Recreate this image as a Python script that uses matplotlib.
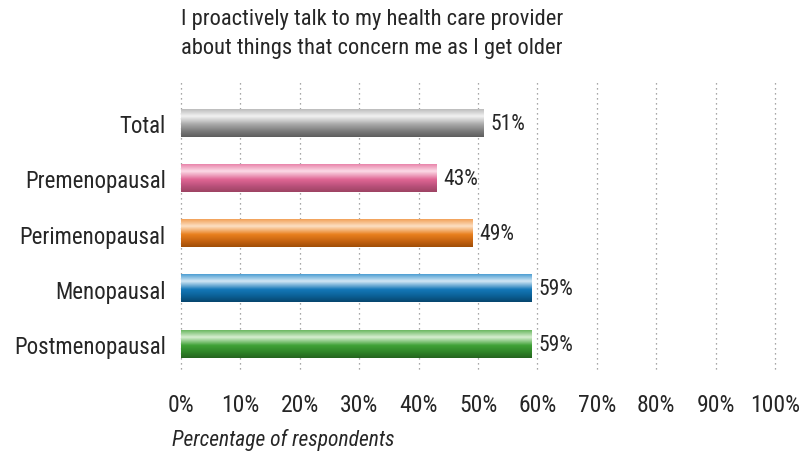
import matplotlib
matplotlib.use("Agg")
import matplotlib.pyplot as plt
import numpy as np
from matplotlib.colors import LinearSegmentedColormap
from matplotlib import font_manager

categories = ["Total", "Premenopausal", "Perimenopausal", "Menopausal", "Postmenopausal"]
values = [51, 43, 49, 59, 59]
value_labels = ["51%", "43%", "49%", "59%", "59%"]
tick_values = [0, 10, 20, 30, 40, 50, 60, 70, 80, 90, 100]
tick_labels = ["0%", "10%", "20%", "30%", "40%", "50%", "60%", "70%", "80%", "90%", "100%"]
title = "I proactively talk to my health care provider\nabout things that concern me as I get older"
xlabel = "Percentage of respondents"

gradients = [
    ["#bdbdbd", "#f2f2f2", "#a8a8a8", "#7a7a7a", "#5e5e5e"],
    ["#e986ac", "#fcdbe7", "#e06694", "#b8507a", "#9e4463"],
    ["#f2a25a", "#fde0c4", "#e9801e", "#c46210", "#a04e08"],
    ["#4f9fd3", "#d3e8f5", "#1478b8", "#0b5f95", "#07466e"],
    ["#6cb862", "#d8efd2", "#3fa236", "#2f8328", "#25651f"],
]

available = set(f.name for f in font_manager.fontManager.ttflist)
main_font = next((f for f in ["Roboto Condensed", "Archivo Narrow", "Barlow Condensed", "Roboto"]
                  if f in available), "DejaVu Sans")
plt.rcParams['font.family'] = [main_font, 'DejaVu Sans']
text_color = "#262626"

fig = plt.figure(figsize=(8.06, 4.52), dpi=100)
ax = fig.add_axes([181/806, 1 - 370/452, (775-181)/806, (370-80)/452])

bar_h = 0.49
n = len(categories)
for i, (v, g) in enumerate(zip(values, gradients)):
    cmap = LinearSegmentedColormap.from_list("g%d" % i, list(zip([0, 0.25, 0.55, 0.8, 1.0], g)))
    grad = np.linspace(0, 1, 64).reshape(-1, 1)
    ax.imshow(grad, cmap=cmap, aspect="auto",
              extent=[0, v, i + bar_h/2, i - bar_h/2], zorder=3, interpolation="bilinear")
    ax.annotate(value_labels[i], xy=(v, i), xytext=(5, 0), textcoords="offset points",
                va="center", ha="left", fontsize=15.5, color=text_color)

ax.set_xlim(0, 100)
ax.set_ylim(4.45, -0.8)
ax.set_yticks(range(n))
ax.set_yticklabels(categories, fontsize=16.5, color=text_color)
ax.set_xticks(tick_values)
ax.set_xticklabels(tick_labels, fontsize=17, color=text_color)
ax.tick_params(axis="both", length=0)
ax.tick_params(axis="x", pad=17)
ax.tick_params(axis="y", pad=11)
for s in ax.spines.values():
    s.set_visible(False)
for t in tick_values:
    ax.axvline(t, color="#8a8a8a", linestyle=(0, (1, 3)), linewidth=0.9, zorder=1, clip_on=False)

ax.set_xlabel(xlabel, fontsize=15.5, style="italic", color=text_color)
ax.xaxis.set_label_coords(-0.015, -0.205)
ax.xaxis.label.set_horizontalalignment("left")
ax.xaxis.label.set_verticalalignment("top")
fig.text(181/806, 1 - 9/452, title, ha="left", va="top", fontsize=16.2, color=text_color, linespacing=1.52)

fig.savefig("out.png", dpi=100)
